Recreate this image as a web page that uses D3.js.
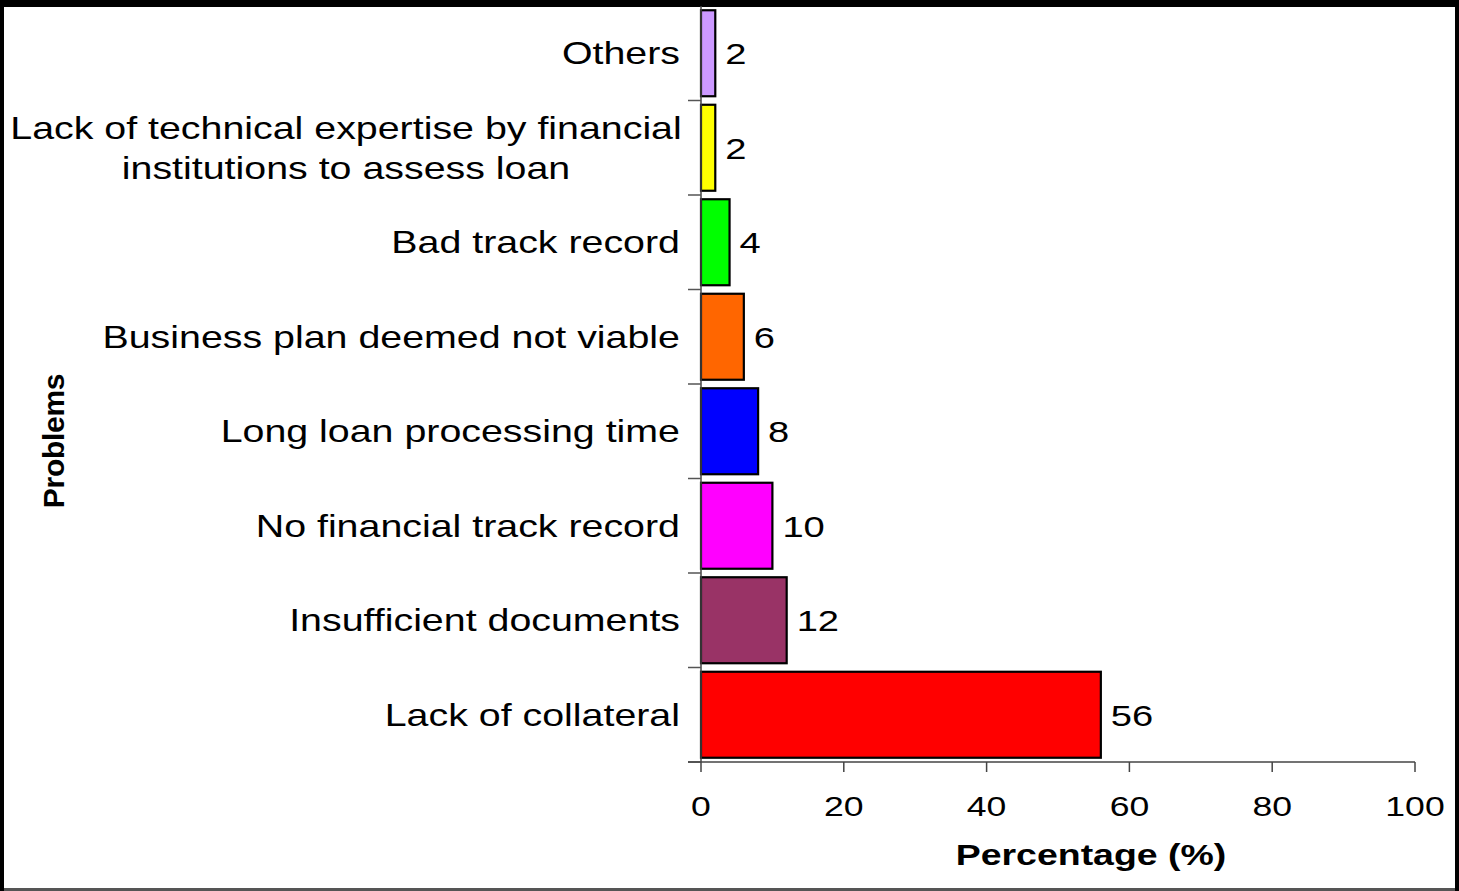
<!DOCTYPE html>
<html>
<head>
<meta charset="utf-8">
<script src="https://cdn.jsdelivr.net/npm/d3@7"></script>
<style>
  html, body { margin: 0; padding: 0; background: #000; }
  svg { display: block; }
  text { font-family: "Liberation Sans", Arial, sans-serif; fill: #000; }
</style>
</head>
<body>
<svg id="chart" width="1459" height="891"></svg>
<script>
// Problems encountered when applying for loans (% of respondents)
const categories = [
  "Others",
  "Lack of technical expertise by financial|institutions to assess loan",
  "Bad track record",
  "Business plan deemed not viable",
  "Long loan processing time",
  "No financial track record",
  "Insufficient documents",
  "Lack of collateral"
];
const percentages = [2, 2, 4, 6, 8, 10, 12, 56];
const barColors = ["#CC99FF", "#FFFF00", "#00FF00", "#FF6600", "#0000FF", "#FF00FF", "#993366", "#FF0000"];
const xTicks = [0, 20, 40, 60, 80, 100];
const xTitle = "Percentage (%)";
const yTitle = "Problems";

const W = 1459, H = 891;
const SX = 1.23;               // horizontal stretch applied to the text
const svg = d3.select("#chart");

// frame: white sheet inside a black border, grey rule at the bottom
svg.append("rect").attr("x", 0).attr("y", 0).attr("width", W).attr("height", H).attr("fill", "#000");
svg.append("rect").attr("x", 4).attr("y", 7).attr("width", 1451).attr("height", 882).attr("fill", "#fff");
svg.append("rect").attr("x", 4).attr("y", 888).attr("width", 1451).attr("height", 3).attr("fill", "#555");

const plot = { left: 701, right: 1415, top: 6, bottom: 762 };

const x = d3.scaleLinear().domain([0, 100]).range([plot.left, plot.right]);
const y = d3.scaleBand().domain(categories).range([plot.top, plot.bottom])
  .paddingInner(0.09).paddingOuter(0.045);

function stretched(sel, px, py, sx = SX) {
  return sel.attr("transform", `translate(${px},${py}) scale(${sx},1)`);
}

// bars
svg.append("g").selectAll("rect")
  .data(categories)
  .join("rect")
  .attr("x", x(0))
  .attr("y", d => y(d))
  .attr("width", (d, i) => x(percentages[i]) - x(0))
  .attr("height", y.bandwidth())
  .attr("fill", (d, i) => barColors[i])
  .attr("stroke", "#000")
  .attr("stroke-width", 2.2);

// value labels
svg.append("g").selectAll("text")
  .data(categories)
  .join("text")
  .each(function (d, i) {
    stretched(d3.select(this), x(percentages[i]) + 10, y(d) + y.bandwidth() / 2 + 11, 1.27);
  })
  .attr("font-size", 30)
  .text((d, i) => percentages[i]);

// y axis: line, boundary ticks and category labels
const step = y.step();
const yAxis = svg.append("g");
yAxis.append("line")
  .attr("x1", plot.left).attr("x2", plot.left)
  .attr("y1", plot.top).attr("y2", plot.bottom)
  .attr("stroke", "#444").attr("stroke-width", 1.5);
yAxis.selectAll("line.tick")
  .data(d3.range(1, categories.length + 1))
  .join("line")
  .attr("class", "tick")
  .attr("x1", plot.left - 13).attr("x2", plot.left)
  .attr("y1", k => plot.top + k * step).attr("y2", k => plot.top + k * step)
  .attr("stroke", "#555").attr("stroke-width", 1.5);

yAxis.selectAll("text")
  .data(categories)
  .join("text")
  .each(function (d) {
    const lines = d.split("|");
    const cy = y(d) + y.bandwidth() / 2;
    const lh = 40;
    const t = d3.select(this).attr("font-size", 32).attr("text-anchor", lines.length > 1 ? "middle" : "end");
    const ax = lines.length > 1 ? 346 : 680;
    stretched(t, ax, cy + 11 - (lines.length - 1) * lh / 2);
    lines.forEach((ln, j) => {
      t.append("tspan").attr("x", 0).attr("dy", j === 0 ? 0 : lh).text(ln);
    });
  });

// x axis
const xAxis = svg.append("g");
xAxis.append("line")
  .attr("x1", plot.left - 13).attr("x2", plot.right)
  .attr("y1", plot.bottom).attr("y2", plot.bottom)
  .attr("stroke", "#444").attr("stroke-width", 1.5);
xAxis.selectAll("line.tick")
  .data(xTicks)
  .join("line")
  .attr("class", "tick")
  .attr("x1", d => x(d)).attr("x2", d => x(d))
  .attr("y1", plot.bottom).attr("y2", plot.bottom + 10)
  .attr("stroke", "#444").attr("stroke-width", 1.5);
xAxis.selectAll("text")
  .data(xTicks)
  .join("text")
  .each(function (d) { stretched(d3.select(this), x(d), 816, 1.27); })
  .attr("font-size", 28)
  .attr("text-anchor", "middle")
  .text(d => d);

// axis titles
stretched(svg.append("text"), 1091, 865, 1.27)
  .attr("font-size", 29.5)
  .attr("font-weight", "bold")
  .attr("text-anchor", "middle")
  .text(xTitle);

svg.append("text")
  .attr("transform", "translate(64,441) rotate(-90)")
  .attr("font-size", 30)
  .attr("font-weight", "bold")
  .attr("text-anchor", "middle")
  .attr("letter-spacing", -0.3)
  .text(yTitle);
</script>
</body>
</html>
